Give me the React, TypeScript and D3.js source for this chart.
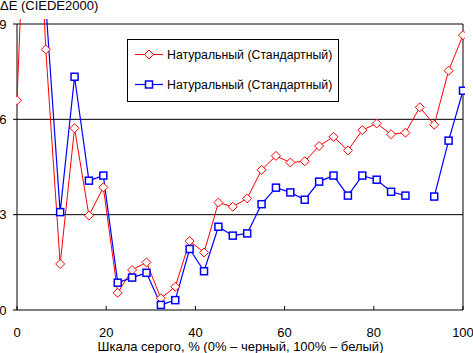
import React from "react";
import * as d3 from "d3";

// grey level steps: 32 points from 0% to 100%
const steps: number[] = d3.range(32).map((i) => (i * 100) / 31);

const redSeries: (number | null)[] = [
  6.6, 18, 8.2, 1.45, 5.72, 2.97, 3.86, 0.54, 1.26, 1.5, 0.37, 0.73, 2.17, 1.81,
  3.38, 3.25, 3.51, 4.41, 4.85, 4.64, 4.68, 5.16, 5.45, 5.02, 5.66, 5.87, 5.53,
  5.58, 6.38, 5.83, 7.53, 8.65,
];

const blueSeries: (number | null)[] = [
  13, 19, 9.6, 3.08, 7.34, 4.07, 4.23, 0.86, 1.02, 1.17, 0.16, 0.31, 1.92, 1.22,
  2.62, 2.34, 2.41, 3.33, 3.85, 3.7, 3.47, 4.04, 4.23, 3.6, 4.23, 4.1, 3.72, 3.6,
  null, 3.57, 5.33, 6.9,
];

const xTicks = [0, 20, 40, 60, 80, 100];
const yTicks = [0, 3, 6, 9];
const legendLabels = ["Натуральный (Стандартный)", "Натуральный (Стандартный)"];

const yTitle = "ΔE (CIEDE2000)";
const xTitle = "Шкала серого, % (0% – черный, 100% – белый)";

const W = 473;
const H = 353;
const FONT = "'Liberation Sans', Arial, sans-serif";

const App: React.FC = () => {
  const x = d3.scaleLinear().domain([0, 100]).range([17, 463]);
  const y = d3.scaleLinear().domain([0, 9]).range([310, 24]);

  const line = d3
    .line<number | null>()
    .defined((d) => d !== null)
    .x((_, i) => x(steps[i]))
    .y((d) => y(d as number));

  const diamond = (cx: number, cy: number, r = 4.5) =>
    `M${cx},${cy - r}L${cx + r},${cy}L${cx},${cy + r}L${cx - r},${cy}Z`;

  const red = "#ff0000";
  const blue = "#0000ff";

  return (
    <svg
      width={W}
      height={H}
      style={{ position: "absolute", left: 0, top: 0, background: "#fff" }}
      fontFamily={FONT}
    >
      <defs>
        <clipPath id="plot">
          <rect x={16} y={19} width={449} height={292} />
        </clipPath>
      </defs>

      {/* grid lines and y ticks */}
      {yTicks.map((t) => (
        <g key={t}>
          <line x1={13} x2={463} y1={y(t)} y2={y(t)} stroke="#000" strokeWidth={1} />
          <text x={6.5} y={y(t) + 4.5} textAnchor="end" fontSize={13}>
            {t}
          </text>
        </g>
      ))}

      {/* axes frame */}
      <line x1={17} x2={17} y1={24} y2={310} stroke="#000" />
      <line x1={463} x2={463} y1={24} y2={310} stroke="#000" />

      {/* x ticks */}
      {xTicks.map((t) => (
        <g key={t}>
          <line x1={x(t)} x2={x(t)} y1={310} y2={306} stroke="#000" />
          <text x={x(t)} y={337} textAnchor="middle" fontSize={13}>
            {t}
          </text>
        </g>
      ))}

      {/* series */}
      <g clipPath="url(#plot)">
        <path d={line(redSeries) || ""} fill="none" stroke={red} strokeWidth={1} />
        <path d={line(blueSeries) || ""} fill="none" stroke={blue} strokeWidth={1.2} />
        {redSeries.map((v, i) =>
          v === null ? null : (
            <path
              key={"r" + i}
              d={diamond(x(steps[i]), y(v))}
              fill="#fff"
              stroke={red}
              strokeWidth={1}
            />
          )
        )}
        {blueSeries.map((v, i) =>
          v === null ? null : (
            <rect
              key={"b" + i}
              x={x(steps[i]) - 3.5}
              y={y(v) - 3.5}
              width={7}
              height={7}
              fill="#fff"
              stroke={blue}
              strokeWidth={1.5}
            />
          )
        )}
      </g>

      {/* legend */}
      <rect x={127.5} y={39.5} width={211} height={62} fill="#fff" stroke="#000" />
      {legendLabels.map((label, i) => {
        const ly = 54.5 + i * 30;
        const c = i === 0 ? red : blue;
        return (
          <g key={i}>
            <line x1={135} x2={163} y1={ly} y2={ly} stroke={c} strokeWidth={i === 0 ? 1 : 1.2} />
            {i === 0 ? (
              <path d={diamond(149, ly)} fill="#fff" stroke={c} />
            ) : (
              <rect x={145.5} y={ly - 3.5} width={7} height={7} fill="#fff" stroke={c} strokeWidth={1.5} />
            )}
            <text x={167} y={ly + 4.5} fontSize={12.3}>
              {label}
            </text>
          </g>
        );
      })}

      {/* titles */}
      <text x={0} y={10} fontSize={13}>
        {yTitle}
      </text>
      <text x={240.5} y={351} textAnchor="middle" fontSize={13}>
        {xTitle}
      </text>
    </svg>
  );
};

export default App;
